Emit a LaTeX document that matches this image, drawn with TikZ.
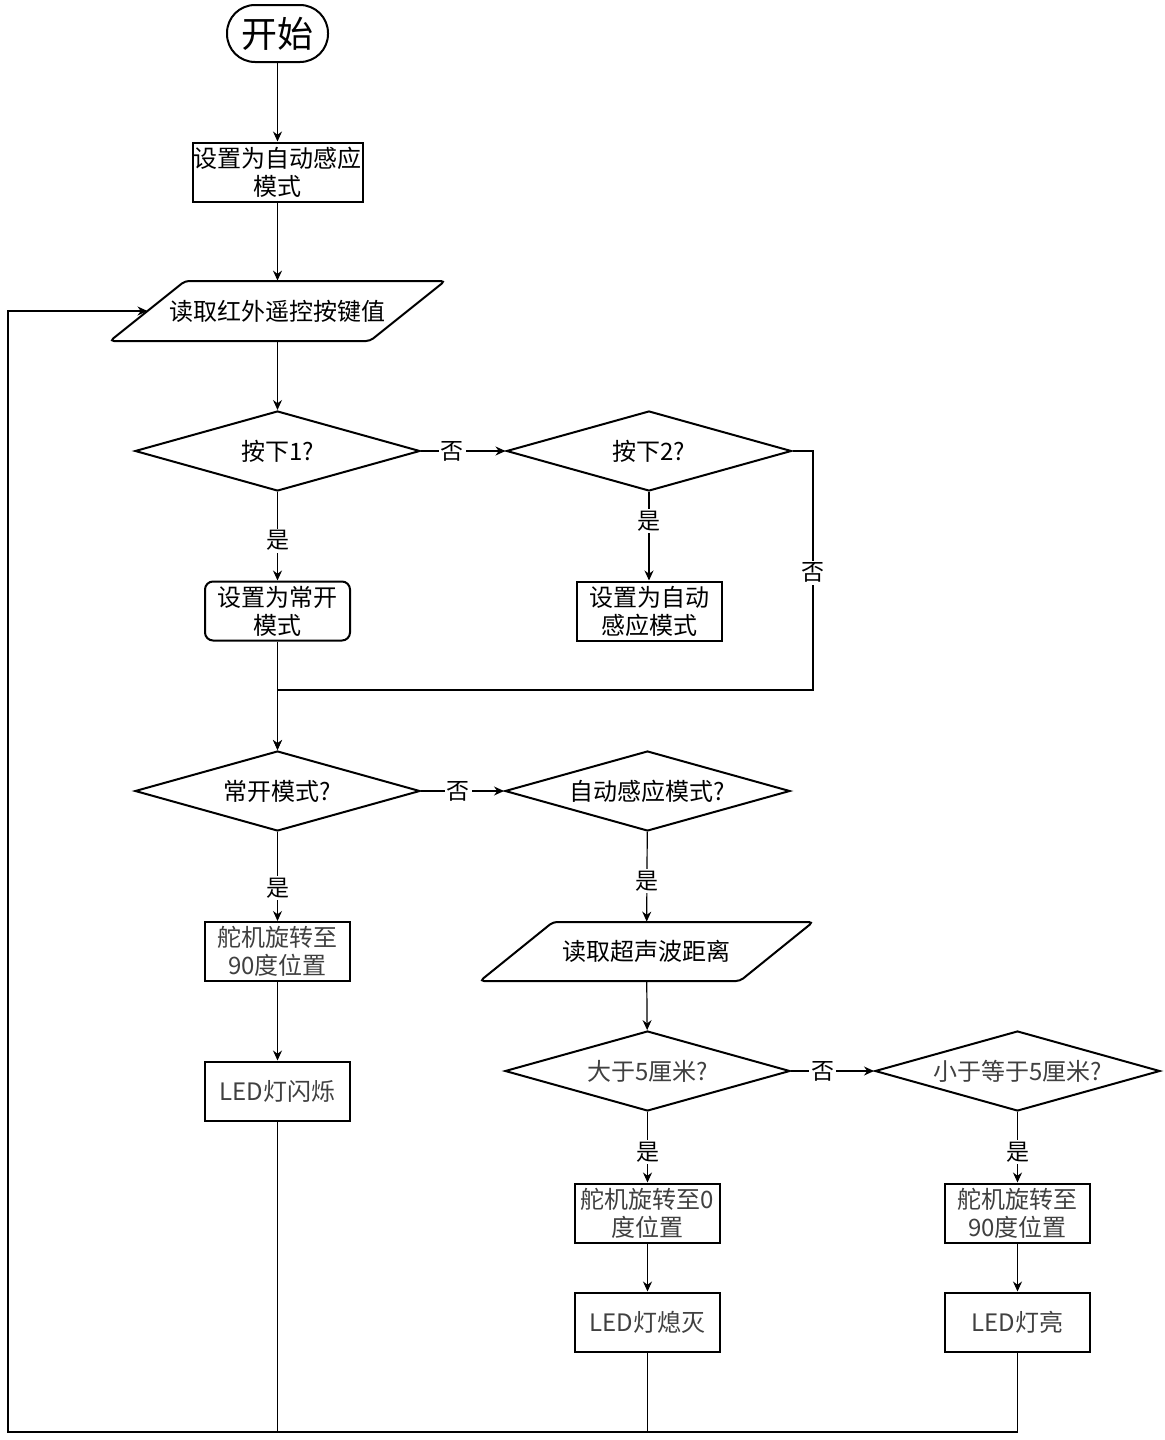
\documentclass[tikz,border=0pt]{standalone}
\usepackage{fontspec}
\setmainfont{Noto Sans CJK SC}
\usetikzlibrary{arrows.meta,shapes.geometric}
\definecolor{tgray}{RGB}{64,64,64}
\begin{document}
\begin{tikzpicture}[x=0.5pt,y=-0.5pt,
 base/.style={font=\fontsize{12}{14}\selectfont, align=center, inner sep=0pt},
 box/.style={base, draw, line width=1pt, minimum width=72.5pt, minimum height=29.5pt},
 gbox/.style={box, text=tgray},
 dia/.style={base, draw, line width=1pt, diamond, aspect=3.6, minimum width=142.5pt, minimum height=40pt},
 lab/.style={font=\fontsize{11.5}{13}\selectfont, fill=white, inner sep=1pt},
 arr/.style={-{Stealth[length=5pt,width=4.5pt]}, line width=0.6pt},
 ln/.style={line width=0.6pt},
]
\useasboundingbox (0,0) rectangle (1164,1440);

% nodes
\node[base, draw, line width=1pt, rounded corners=14pt, minimum width=50.5pt, minimum height=28.5pt, font=\fontsize{18}{20}\selectfont] (start) at (277.5,33.5) {开始};
\node[box, minimum width=85pt] (b1) at (277.5,172) {设置为自动感应\\模式};
\draw[line width=1pt, rounded corners=2pt] (185,281) -- (445,281) -- (370,341) -- (110,341) -- cycle;
\node[base, minimum width=130pt, minimum height=30pt] (p1) at (277.5,311) {读取红外遥控按键值};
\coordinate (p1l) at (147.5,311);

\node[dia] (d1) at (277.5,451) {按下1?};
\node[dia] (d2) at (649,451) {按下2?};
\node[box, rounded corners=4pt] (b2) at (277.5,611) {设置为常开\\模式};
\node[box] (b3) at (649,611) {设置为自动\\感应模式};
\node[dia] (d3) at (277.5,791) {常开模式?};
\node[dia] (d4) at (647.5,791) {自动感应模式?};
\node[gbox] (b4) at (277.5,951.5) {舵机旋转至\\90度位置};
\node[gbox] (b5) at (277.5,1091) {LED灯闪烁};
\draw[line width=1pt, rounded corners=2pt] (553,922) -- (813,922) -- (740,981) -- (480,981) -- cycle;
\node[base, minimum width=130pt, minimum height=29.5pt] (p2) at (646.5,951.5) {读取超声波距离};
\node[dia, text=tgray] (d5) at (647.5,1071) {大于5厘米?};
\node[dia, text=tgray] (d6) at (1017.5,1071) {小于等于5厘米?};
\node[gbox] (b6) at (647.5,1213) {舵机旋转至0\\度位置};
\node[gbox] (b7) at (647.5,1322) {LED灯熄灭};
\node[gbox] (b8) at (1017.5,1213) {舵机旋转至\\90度位置};
\node[gbox] (b9) at (1017.5,1322) {LED灯亮};

% helper coordinates
\coordinate (r1) at (813,451);
\coordinate (r2) at (813,690);
\coordinate (r3) at (277.5,690);
\coordinate (c1) at (1017.5,1432);
\coordinate (c2) at (8,1432);
\coordinate (c3) at (8,311);
\coordinate (c4) at (277.5,1432);
\coordinate (c5) at (647.5,1432);

% edges
\draw[arr] (start) -- (b1);
\draw[arr] (b1) -- (p1);
\draw[arr] (p1) -- (d1);
\draw[arr] (d1.east) -- node[lab,pos=0.37]{否} (d2.west);
\draw[arr] (d1) -- node[lab,pos=0.55]{是} (b2);
\draw[arr] (d2) -- node[lab,pos=0.33]{是} (b3);
\draw[ln] (d2.east) -- (r1) -- node[lab,pos=0.51]{否} (r2) -- (r3);
\draw[arr] (r3) -- (d3.north);
\draw[arr] (b2) -- (d3);
\draw[arr] (d3.east) -- node[lab,pos=0.45]{否} (d4.west);
\draw[arr] (d3) -- node[lab,pos=0.63]{是} (b4);
\draw[arr] (b4) -- (b5);
\draw[ln] (b5.south) -- (c4);
\draw[arr] (d4) -- node[lab,pos=0.55]{是} (p2);
\draw[arr] (p2) -- (d5);
\draw[arr] (d5.east) -- node[lab,pos=0.38]{否} (d6.west);
\draw[arr] (d5) -- node[lab,pos=0.57]{是} (b6);
\draw[arr] (d6) -- node[lab,pos=0.57]{是} (b8);
\draw[arr] (b6) -- (b7);
\draw[arr] (b8) -- (b9);
\draw[ln] (b7.south) -- (c5);
\draw[arr] (b9.south) -- (c1) -- (c2) -- (c3) -- (p1l);
\end{tikzpicture}
\end{document}
